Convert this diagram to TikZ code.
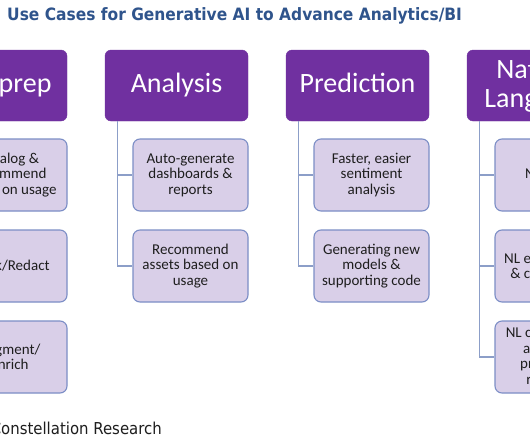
\documentclass[tikz,border=0pt]{standalone}
\usepackage{fontspec}
\setmainfont{Carlito}
\newfontfamily\titlefont[FakeStretch=0.91]{DejaVu Sans}
\definecolor{hdrpurple}{RGB}{112,48,160}
\definecolor{childfill}{RGB}{217,207,232}
\definecolor{childline}{RGB}{124,142,198}
\definecolor{connline}{RGB}{140,158,200}
\definecolor{titleblue}{RGB}{47,84,140}
\definecolor{textdark}{RGB}{30,30,30}
\tikzset{
  hdr/.style={rectangle, rounded corners=6pt, fill=hdrpurple, draw=hdrpurple,
    minimum width=143pt, minimum height=71pt, inner sep=0pt, text=white,
    font=\fontsize{28}{28.7}\selectfont, align=center},
  hdrone/.style={hdr, text height=20pt, text depth=6pt},
  child/.style={rectangle, rounded corners=7pt, fill=childfill, draw=childline,
    line width=1.1pt, minimum width=115pt, minimum height=72pt, inner sep=0pt,
    font=\fontsize{15}{15.4}\selectfont, align=center, text=textdark},
  conn/.style={draw=connline, line width=1.1pt},
  titletext/.style={anchor=base west, inner sep=0pt, text=titleblue,
    font=\titlefont\bfseries\fontsize{17}{20}\selectfont},
  foottext/.style={anchor=base east, inner sep=0pt, text=textdark,
    font=\titlefont\fontsize{16.4}{18}\selectfont}
}
\begin{document}
\begin{tikzpicture}[x=1pt,y=-1pt]
\useasboundingbox (0,0) rectangle (530,442);
\fill[white] (0,0) rectangle (530,442);
\clip (0,0) rectangle (530,442);

\node[titletext] (title) at (7,20.7) {Use Cases for Generative AI to Advance Analytics/BI};

% column 1
\node[hdrone] (h1) at (-4.5,85.5) {Data prep};
\node[child] (c11) at (9.5,175) {Catalog \&\\recommend\\based on usage};
\node[child] (c12) at (9.5,266) {Mask/Redact};
\node[child] (c13) at (9.5,357) {Augment/\\Enrich};
% column 2
\node[hdrone] (h2) at (176.5,85.5) {Analysis};
\node[child] (c21) at (190.5,175) {Auto-generate\\dashboards \&\\reports};
\node[child] (c22) at (190.5,266) {Recommend\\assets based on\\usage};
% column 3
\node[hdrone] (h3) at (357.5,85.5) {Prediction};
\node[child] (c31) at (371.5,175) {Faster, easier\\sentiment\\analysis};
\node[child] (c32) at (371.5,266) {Generating new\\models \&\\supporting code};
% column 4
\node[hdr] (h4) at (538.5,85.5) {Natural\\Language};
\node[child] (c41) at (552.5,175) {NL query};
\node[child] (c42) at (552.5,266) {NL explanations\\\& conclusions};
\node[child] (c43) at (552.5,357) {NL copilots and\\assistants\\processing\\requests};

% connectors
\foreach \h/\c in {h1/c11,h1/c12,h1/c13,h2/c21,h2/c22,h3/c31,h3/c32,h4/c41,h4/c42,h4/c43}
  \draw[conn] ([xshift=13pt]\h.south west) |- (\c.west);

\node[foottext] (foot) at (162,434) {Constellation Research};
\end{tikzpicture}
\end{document}
